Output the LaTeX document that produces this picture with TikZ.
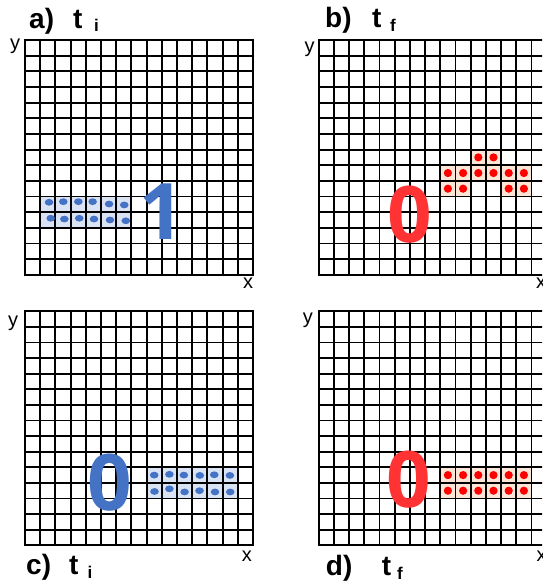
\documentclass[tikz,border=0pt]{standalone}
\usepackage{fontspec}
\setmainfont{Liberation Sans}
\newfontfamily\digitfont{Open Sans}
\usetikzlibrary{positioning, backgrounds}
\definecolor{dotblue}{RGB}{68,114,196}
\definecolor{cellblue}{RGB}{218,227,243}
\definecolor{dotred}{RGB}{255,0,0}
\definecolor{cellred}{RGB}{251,229,214}
\definecolor{digitred}{RGB}{255,51,51}

\begin{document}
\begin{tikzpicture}[x=1pt, y=-1pt,
    cellgrid/.style={black, line width=1.9pt},
    bluecell/.style={fill=cellblue},
    redcell/.style={fill=cellred},
    bluedot/.style={fill=dotblue},
    reddot/.style={fill=dotred},
    panel/.style={font=\fontsize{28}{28}\selectfont\bfseries, inner sep=0pt, anchor=base west},
    subs/.style={font=\fontsize{17}{17}\selectfont\bfseries, inner sep=0pt, anchor=base west},
    axis/.style={font=\fontsize{20}{20}\selectfont, inner sep=0pt, anchor=base west},
    digit/.style={font=\digitfont\fontsize{78}{78}\selectfont\bfseries, inner sep=0pt}
  ]
  \useasboundingbox (0,0) rectangle (542,587);
  \clip (0,0) rectangle (542,587);

  % the four grids
  \foreach \gx/\gy/\gh in {25/40/15.65, 318.7/40/15.65, 25/311.3/15.6, 318.7/311.3/15.6} {
    \begin{scope}[shift={(\gx,\gy)}, x=15.2pt, y=-\gh pt]
      \foreach \i in {1,...,14} {
        \draw[cellgrid] (\i,0) -- (\i,15);
        \draw[cellgrid] (0,\i) -- (15,\i);
      }
      \draw[cellgrid] (0,0) rectangle (15,15);
    \end{scope}
  }

  % a) t_i
  \begin{scope}[shift={(25,40)}, x=15.2pt, y=-15.65pt]
    \begin{scope}[on background layer]
      \fill[bluecell] (1,10) rectangle (7,12);
    \end{scope}
    \foreach \px/\py in {1.58/10.37, 2.52/10.33, 3.51/10.33, 4.45/10.33, 5.53/10.48, 6.53/10.54,
                         1.69/11.39, 2.59/11.44, 3.57/11.39, 4.54/11.44, 5.59/11.5, 6.63/11.55}
      \fill[bluedot] (\px,\py) ellipse (4.3pt and 3.4pt);
    \node[digit, text=dotblue] (onea) at (9,11) {1};
  \end{scope}

  % b) t_f
  \begin{scope}[shift={(318.7,40)}, x=15.2pt, y=-15.65pt]
    \begin{scope}[on background layer]
      \fill[redcell] (10,7) rectangle (12,8);
      \fill[redcell] (8,8) rectangle (14,9);
      \fill[redcell] (8,9) rectangle (10,10);
      \fill[redcell] (12,9) rectangle (14,10);
    \end{scope}
    \foreach \c/\r in {10/7, 11/7, 8/8, 9/8, 10/8, 11/8, 12/8, 13/8, 8/9, 9/9, 12/9, 13/9}
      \fill[reddot] (\c+0.5,\r+0.5) circle (4.1pt);
    \node[digit, text=digitred] (zerob) at (5.97,11.18) {0};
  \end{scope}

  % c) t_i
  \begin{scope}[shift={(25,311.3)}, x=15.2pt, y=-15.6pt]
    \begin{scope}[on background layer]
      \fill[bluecell] (8,10) rectangle (14,12);
    \end{scope}
    \foreach \px/\py in {8.5/10.5, 9.5/10.45, 10.45/10.5, 11.5/10.52, 12.45/10.48, 13.48/10.52,
                         8.52/11.55, 9.5/11.38, 10.5/11.58, 11.48/11.5, 12.5/11.58, 13.5/11.58}
      \fill[bluedot] (\px,\py) ellipse (4.3pt and 3.4pt);
    \node[digit, text=dotblue] (zeroc) at (5.56,11) {0};
  \end{scope}

  % d) t_f
  \begin{scope}[shift={(318.7,311.3)}, x=15.2pt, y=-15.6pt]
    \begin{scope}[on background layer]
      \fill[redcell] (8,10) rectangle (14,12);
    \end{scope}
    \foreach \c in {8,...,13} {
      \fill[reddot] (\c+0.5,10.5) circle (4.1pt);
      \fill[reddot] (\c+0.5,11.5) circle (4.1pt);
    }
    \node[digit, text=digitred] (zerod) at (5.9,10.78) {0};
  \end{scope}

  % labels
  \node[panel] (lbla) at (29,28) {a)};
  \node[panel] (ta) at (73,28) {t};
  \node[subs] (sa) at (94,31.7) {i};
  \node[panel] (lblb) at (325,27.3) {b)};
  \node[panel] (tb) at (372,27.3) {t};
  \node[subs] (sb) at (390,31.7) {f};
  \node[panel] (lblc) at (26,574) {c)};
  \node[panel] (tc) at (69,574) {t};
  \node[subs] (sc) at (87.5,578) {i};
  \node[panel] (lbld) at (325.7,575) {d)};
  \node[panel] (td) at (381.7,575) {t};
  \node[subs] (sd) at (397,579) {f};

  \node[axis] (ya) at (10,49.5) {y};
  \node[axis] (yb) at (304.3,52) {y};
  \node[axis] (yc) at (8,326.5) {y};
  \node[axis] (yd) at (302.7,323.5) {y};
  \node[axis] (xa) at (243,288.4) {x};
  \node[axis] (xb) at (536,288.4) {x};
  \node[axis] (xc) at (241.7,561.4) {x};
  \node[axis] (xd) at (536.5,561.4) {x};
\end{tikzpicture}
\end{document}
